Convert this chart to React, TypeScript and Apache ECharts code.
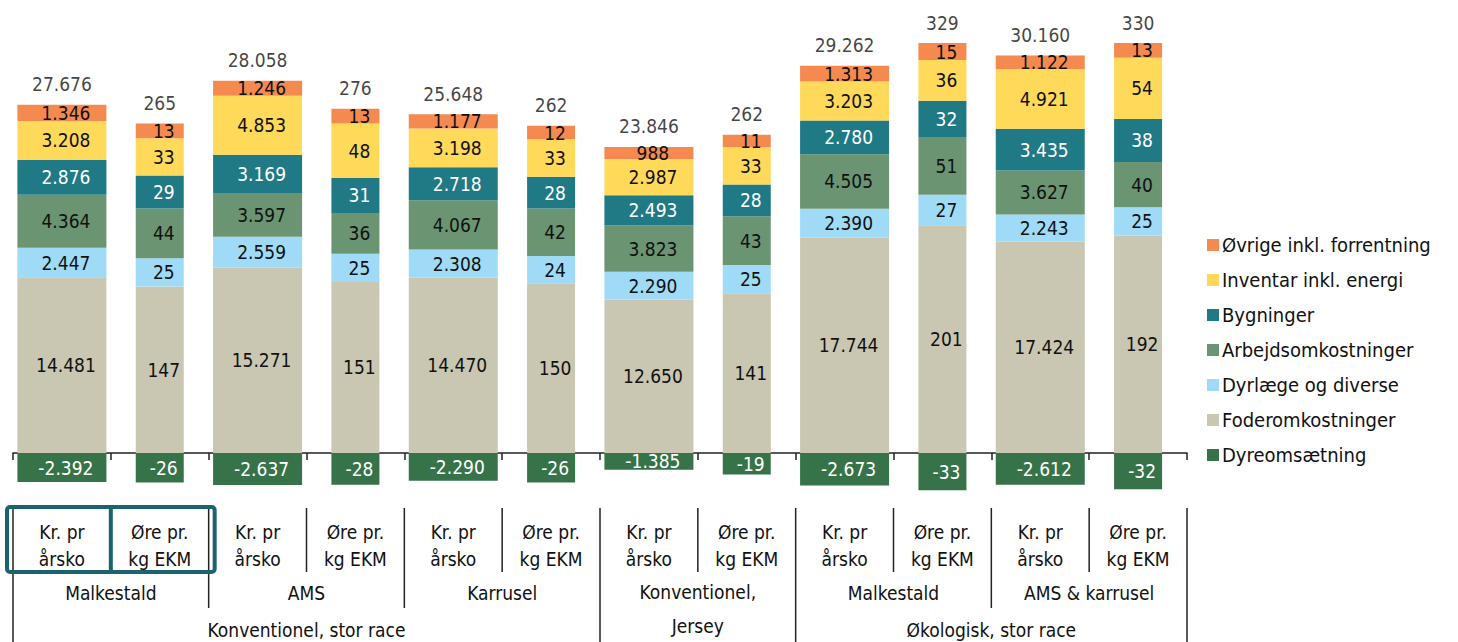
import React, { useEffect, useRef } from "react";
import * as echarts from "echarts";

// ---------- DATA ----------
const categories = [
  "Kr. pr\nårsko", "Øre pr.\nkg EKM",
  "Kr. pr\nårsko", "Øre pr.\nkg EKM",
  "Kr. pr\nårsko", "Øre pr.\nkg EKM",
  "Kr. pr\nårsko", "Øre pr.\nkg EKM",
  "Kr. pr\nårsko", "Øre pr.\nkg EKM",
  "Kr. pr\nårsko", "Øre pr.\nkg EKM",
];
const level2Labels = ["Malkestald", "AMS", "Karrusel", "Konventionel,\nJersey", "Malkestald", "AMS & karrusel"];
const level3Labels = ["Konventionel, stor race", "Økologisk, stor race"];

const segmentNames = [
  "Dyreomsætning",
  "Foderomkostninger",
  "Dyrlæge og diverse",
  "Arbejdsomkostninger",
  "Bygninger",
  "Inventar inkl. energi",
  "Øvrige inkl. forrentning",
];

// Kr. pr årsko (one value per group)
const krDyreomsaetning = [-2392, -2637, -2290, -1385, -2673, -2612];
const krFoder = [14481, 15271, 14470, 12650, 17744, 17424];
const krDyrlaege = [2447, 2559, 2308, 2290, 2390, 2243];
const krArbejds = [4364, 3597, 4067, 3823, 4505, 3627];
const krBygninger = [2876, 3169, 2718, 2493, 2780, 3435];
const krInventar = [3208, 4853, 3198, 2987, 3203, 4921];
const krOvrige = [1346, 1246, 1177, 988, 1313, 1122];
const krTotals = [27676, 28058, 25648, 23846, 29262, 30160];

// Øre pr. kg EKM
const oreDyreomsaetning = [-26, -28, -26, -19, -33, -32];
const oreFoder = [147, 151, 150, 141, 201, 192];
const oreDyrlaege = [25, 25, 24, 25, 27, 25];
const oreArbejds = [44, 36, 42, 43, 51, 40];
const oreBygninger = [29, 31, 28, 28, 32, 38];
const oreInventar = [33, 48, 33, 33, 36, 54];
const oreOvrige = [13, 13, 12, 11, 15, 13];
const oreTotals = [265, 276, 262, 262, 329, 330];

const krSegments = [krDyreomsaetning, krFoder, krDyrlaege, krArbejds, krBygninger, krInventar, krOvrige];
const oreSegments = [oreDyreomsaetning, oreFoder, oreDyrlaege, oreArbejds, oreBygninger, oreInventar, oreOvrige];

const colors = ["#377349", "#C9C7B2", "#9FDBF6", "#6A9472", "#1F7A86", "#FFD95A", "#F58A50"];
const labelColors = ["#ffffff", "#111111", "#111111", "#111111", "#ffffff", "#111111", "#111111"];

const FONT = '"Liberation Sans Narrow", "DejaVu Sans Condensed", "Open Sans", sans-serif';
const TEXT = "#111111";

function fmt(v: number): string {
  const s = Math.abs(v).toString().replace(/\B(?=(\d{3})+(?!\d))/g, ".");
  return v < 0 ? "-" + s : s;
}

function spread(vals: number[], odd: boolean): (number | string)[] {
  const out: (number | string)[] = [];
  vals.forEach((v) => {
    if (odd) { out.push("-"); out.push(v); } else { out.push(v); out.push("-"); }
  });
  return out;
}

export default function App() {
  const ref = useRef<HTMLDivElement>(null);

  useEffect(() => {
    if (!ref.current) return;
    const chart = echarts.init(ref.current, null, { renderer: "svg" });

    const series: any[] = [];
    segmentNames.forEach((name, s) => {
      const label = {
        show: true,
        position: "inside",
        offset: [4, 0],
        color: labelColors[s],
        fontFamily: FONT,
        fontSize: 19,
        formatter: (p: any) => fmt(p.value),
      };
      series.push({
        type: "bar", name, xAxisIndex: 0, yAxisIndex: 0, stack: "kr", barWidth: 89,
        itemStyle: { color: colors[s] }, label, data: spread(krSegments[s], false),
      });
      series.push({
        type: "bar", name, xAxisIndex: 1, yAxisIndex: 1, stack: "ore", barWidth: 48,
        itemStyle: { color: colors[s] }, label, data: spread(oreSegments[s], true),
      });
    });

    const krPos = krTotals.map((_, g) => krSegments.slice(1).reduce((a, arr) => a + arr[g], 0));
    const orePos = oreTotals.map((_, g) => oreSegments.slice(1).reduce((a, arr) => a + arr[g], 0));
    const totalLabel = (arr: number[]) => ({
      show: true, position: "top", distance: 11, color: TEXT, fontFamily: FONT, fontSize: 19,
      formatter: (p: any) => fmt(arr[p.dataIndex]),
    });
    series.push({
      type: "scatter", name: "totalKr", xAxisIndex: 0, yAxisIndex: 0, symbolSize: 0,
      itemStyle: { color: TEXT }, label: totalLabel(krTotals),
      data: krPos.map((v, g) => [g * 2, v]),
    });
    series.push({
      type: "scatter", name: "totalOre", xAxisIndex: 1, yAxisIndex: 1, symbolSize: 0,
      itemStyle: { color: TEXT }, label: totalLabel(oreTotals),
      data: orePos.map((v, g) => [g * 2 + 1, v]),
    });

    const option: any = {
      animation: false,
      backgroundColor: "#ffffff",
      textStyle: { fontFamily: FONT },
      grid: { left: 13, right: 271, top: 0, bottom: 142 },
      legend: {
        orient: "vertical",
        left: 1207,
        top: 235,
        itemWidth: 12,
        itemHeight: 12,
        itemGap: 15,
        padding: 0,
        icon: "rect",
        data: segmentNames.slice().reverse(),
        textStyle: { fontFamily: FONT, fontSize: 20, color: TEXT, lineHeight: 20, padding: [0, 0, 0, -2] },
      },
      xAxis: [
        {
          type: "category",
          data: categories,
          axisLine: { onZero: true, lineStyle: { color: "#222", width: 1.5 } },
          axisTick: { show: true, length: 7, lineStyle: { color: "#222", width: 1.5 } },
          axisLabel: { show: false },
          splitLine: { show: false },
        },
        { type: "category", data: categories, show: false },
      ],
      yAxis: [
        { type: "value", min: -3875, max: 37350, show: false, splitLine: { show: false } },
        { type: "value", min: -41.5, max: 400, show: false, splitLine: { show: false } },
      ],
      series,
    };
    chart.setOption(option);

    const xs = categories.map((_, i) => chart.convertToPixel({ xAxisIndex: 0 }, i) as number);
    const band = xs[1] - xs[0];
    const bx = (i: number) => xs[0] - band / 2 + i * band;

    const g: any[] = [];
    const textStyle = (text: string, x: number, y: number, lh: number) => ({
      type: "text",
      silent: true,
      style: {
        text, x, y, align: "center", verticalAlign: "middle",
        fontFamily: FONT, fontSize: 19, lineHeight: lh, fill: TEXT,
      },
    });
    // dividers
    for (let i = 0; i <= 12; i++) {
      let y2 = 572;
      if (i === 0 || i === 6 || i === 8 || i === 12) y2 = 642;
      else if (i % 2 === 0) y2 = 608;
      g.push({
        type: "line", silent: true,
        shape: { x1: bx(i), y1: 508, x2: bx(i), y2 },
        style: { stroke: "#222", lineWidth: 1.5 },
      });
    }
    // level 1
    categories.forEach((c, i) => g.push(textStyle(c, xs[i], 545, 27)));
    // level 2
    level2Labels.forEach((c, k) => {
      const cx = (bx(k * 2) + bx(k * 2 + 2)) / 2;
      if (c.indexOf("\n") >= 0) g.push(textStyle(c, cx, 609, 34));
      else g.push(textStyle(c, cx, 593, 26));
    });
    // level 3
    g.push(textStyle(level3Labels[0], (bx(0) + bx(6)) / 2, 630, 26));
    g.push(textStyle(level3Labels[1], (bx(8) + bx(12)) / 2, 630, 26));
    // highlight box
    g.push({
      type: "rect", silent: true,
      shape: { x: bx(0) - 6, y: 507, width: bx(2) - bx(0) + 12, height: 65, r: 3 },
      style: { fill: "none", stroke: "#1B636E", lineWidth: 4 },
    });
    g.push({
      type: "line", silent: true,
      shape: { x1: bx(1), y1: 507, x2: bx(1), y2: 572 },
      style: { stroke: "#1B636E", lineWidth: 4 },
    });

    chart.setOption({ graphic: g });

    return () => chart.dispose();
  }, []);

  return (
    <div
      ref={ref}
      style={{ position: "fixed", left: 0, top: 0, width: 1458, height: 642, background: "#fff" }}
    />
  );
}
